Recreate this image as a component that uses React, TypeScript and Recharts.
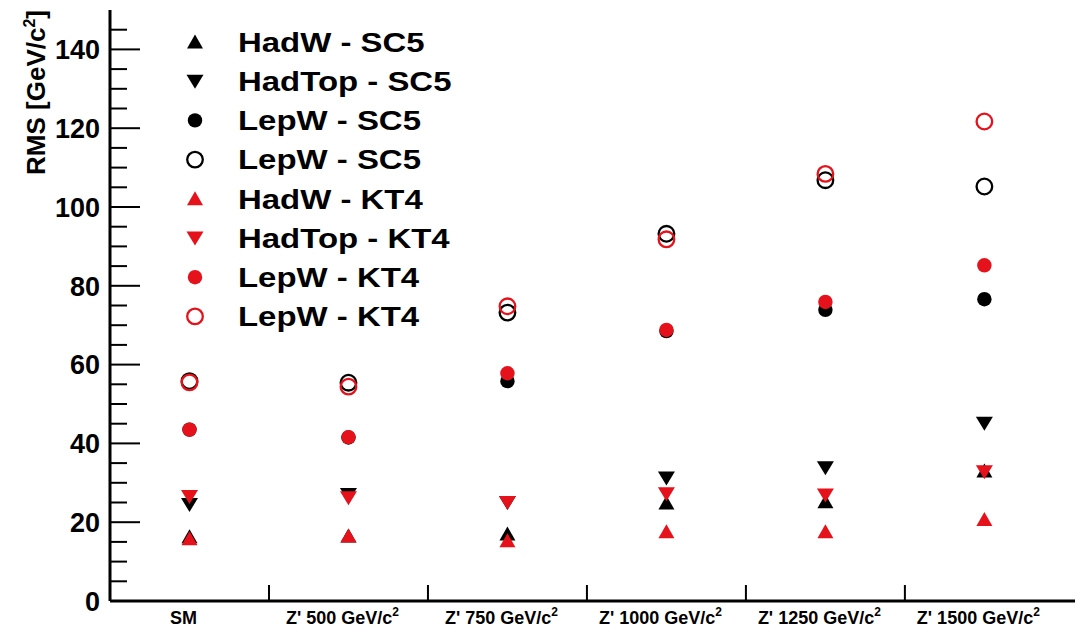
import React from "react";
import { ScatterChart, Scatter, XAxis, YAxis, Legend } from "recharts";

// bins along the x axis: main text + superscript
const categories = ["SM", "Z' 500 GeV/c", "Z' 750 GeV/c", "Z' 1000 GeV/c", "Z' 1250 GeV/c", "Z' 1500 GeV/c"];
const categorySup = ["", "2", "2", "2", "2", "2"];

// RMS values [GeV/c^2], one per bin
const hadWSC5 = [16.3, 16.5, 17.0, 24.9, 25.2, 33.0];
const hadTopSC5 = [24.5, 27.0, 25.0, 31.2, 33.8, 45.1];
const lepWSC5 = [43.5, 41.5, 55.8, 68.5, 73.9, 76.6];
const lepWSC5Open = [55.8, 55.4, 73.2, 93.2, 106.8, 105.2];
const hadWKT4 = [15.8, 16.5, 15.3, 17.6, 17.6, 20.7];
const hadTopKT4 = [26.5, 26.2, 25.0, 27.2, 26.9, 32.8];
const lepWKT4 = [43.5, 41.6, 57.8, 68.8, 75.9, 85.2];
const lepWKT4Open = [55.5, 54.4, 74.8, 91.8, 108.4, 121.7];

// y ticks every 5, labelled every 20
const yTicks = [0, 5, 10, 15, 20, 25, 30, 35, 40, 45, 50, 55, 60, 65, 70, 75, 80, 85, 90, 95, 100, 105, 110, 115, 120, 125, 130, 135, 140, 145];
// x ticks: bin centres carry labels, integer bin edges carry tick marks
const xTicks = [0.5, 1, 1.5, 2, 2.5, 3, 3.5, 4, 4.5, 5, 5.5];
const binCenters = [0.5, 1.5, 2.5, 3.5, 4.5, 5.5];
const X_MAX = 6.07;

const RED = "#e5121b";
const BLACK = "#000000";
const FONT = "'Liberation Sans', Arial, Helvetica, sans-serif";
const TICK_MARGIN = 10;

type Kind = "up" | "down" | "dot" | "ring";

const series: { name: string; values: number[]; kind: Kind; color: string }[] = [
  { name: "HadW - SC5", values: hadWSC5, kind: "up", color: BLACK },
  { name: "HadTop - SC5", values: hadTopSC5, kind: "down", color: BLACK },
  { name: "LepW - SC5", values: lepWSC5, kind: "dot", color: BLACK },
  { name: "LepW - SC5", values: lepWSC5Open, kind: "ring", color: BLACK },
  { name: "HadW - KT4", values: hadWKT4, kind: "up", color: RED },
  { name: "HadTop - KT4", values: hadTopKT4, kind: "down", color: RED },
  { name: "LepW - KT4", values: lepWKT4, kind: "dot", color: RED },
  { name: "LepW - KT4", values: lepWKT4Open, kind: "ring", color: RED },
];

function Marker({ cx, cy, kind, color }: { cx: number; cy: number; kind: Kind; color: string }) {
  if (cx == null || cy == null) return null;
  if (kind === "up")
    return <polygon points={`${cx - 8},${cy + 6.5} ${cx + 8},${cy + 6.5} ${cx},${cy - 7.5}`} fill={color} />;
  if (kind === "down")
    return <polygon points={`${cx - 8.5},${cy - 6.5} ${cx + 8.5},${cy - 6.5} ${cx},${cy + 7.5}`} fill={color} />;
  if (kind === "dot") return <circle cx={cx} cy={cy} r={7.2} fill={color} />;
  return <circle cx={cx} cy={cy} r={7.8} fill="none" stroke={color} strokeWidth={2.3} />;
}

function XTick({ x, y, payload }: any) {
  const v = payload.value;
  const axisY = y - TICK_MARGIN;
  if (Number.isInteger(v)) {
    return <line x1={x} x2={x} y1={axisY} y2={axisY - 16} stroke="#000" strokeWidth={2} />;
  }
  const i = Math.round(v - 0.5);
  return (
    <text x={x - 6} y={y} dy="0.71em" textAnchor="middle" fontSize={18} fontWeight="bold" fill="#000">
      {categories[i]}
      {categorySup[i] && (
        <tspan dy={-8} fontSize={12}>
          {categorySup[i]}
        </tspan>
      )}
    </text>
  );
}

function YTick({ x, y, payload }: any) {
  const v = payload.value;
  const axisX = x + TICK_MARGIN;
  const major = v % 20 === 0;
  return (
    <g>
      <line x1={axisX} x2={axisX + (major ? 30 : 17)} y1={y} y2={y} stroke="#000" strokeWidth={2} />
      {major && (
        <text x={x} y={y} dy="0.36em" textAnchor="end" fontSize={27} fontWeight="bold" fill="#000">
          {v}
        </text>
      )}
    </g>
  );
}

function YTitle({ viewBox }: any) {
  const x = viewBox.x + 45;
  const y = viewBox.y;
  return (
    <text x={x} y={y} transform={`rotate(-90 ${x} ${y})`} textAnchor="end" fontSize={26} fontWeight="bold" fill="#000">
      RMS [GeV/c
      <tspan dy={-10} fontSize={16}>2</tspan>
      <tspan dy={10}>]</tspan>
    </text>
  );
}

function LegendBox() {
  return (
    <svg width={300} height={320} style={{ display: "block" }}>
      {series.map((s, i) => {
        const cy = 16 + i * 39.2;
        return (
          <g key={i}>
            <Marker cx={15} cy={cy} kind={s.kind} color={s.color} />
            <g transform={`translate(58 ${cy}) scale(1.22 1)`}>
              <text x={0} y={0} dy="0.36em" fontSize={27} fontWeight="bold" fill="#000" fontFamily={FONT}>
                {s.name}
              </text>
            </g>
          </g>
        );
      })}
    </svg>
  );
}

export default function App() {
  return (
    <div style={{ position: "absolute", left: 0, top: 0, background: "#fff", fontFamily: FONT }}>
      <ScatterChart width={1077} height={631} margin={{ top: 10, right: 2, bottom: 0, left: 0 }}>
        <XAxis
          xAxisId="x"
          dataKey="x"
          type="number"
          domain={[0, X_MAX]}
          ticks={xTicks}
          tick={<XTick />}
          tickLine={false}
          tickSize={0}
          tickMargin={TICK_MARGIN}
          height={30}
          axisLine={{ stroke: "#000", strokeWidth: 3 }}
          interval={0}
        />
        <XAxis
          xAxisId="top"
          orientation="top"
          type="number"
          domain={[0, X_MAX]}
          tick={false}
          tickLine={false}
          height={0}
          axisLine={{ stroke: "#000", strokeWidth: 2 }}
        />
        <YAxis
          yAxisId="l"
          dataKey="y"
          type="number"
          domain={[0, 150]}
          ticks={yTicks}
          width={110}
          tickLine={false}
          tickSize={0}
          tickMargin={TICK_MARGIN}
          interval={0}
          tick={<YTick />}
          axisLine={{ stroke: "#000", strokeWidth: 3 }}
          label={<YTitle />}
        />
        <YAxis
          yAxisId="r"
          orientation="right"
          type="number"
          domain={[0, 150]}
          tick={false}
          tickLine={false}
          width={0}
          axisLine={{ stroke: "#000", strokeWidth: 2.5 }}
        />
        <Legend
          layout="vertical"
          align="center"
          verticalAlign="middle"
          content={<LegendBox />}
          wrapperStyle={{ left: 180, top: 26, width: 300, height: 320 }}
        />
        {series.map((s, i) => (
          <Scatter
            key={i}
            name={s.name}
            xAxisId="x"
            yAxisId="l"
            data={s.values.map((v, j) => ({ x: binCenters[j], y: v }))}
            isAnimationActive={false}
            shape={(p: any) => <Marker cx={p.cx} cy={p.cy} kind={s.kind} color={s.color} />}
          />
        ))}
      </ScatterChart>
    </div>
  );
}
